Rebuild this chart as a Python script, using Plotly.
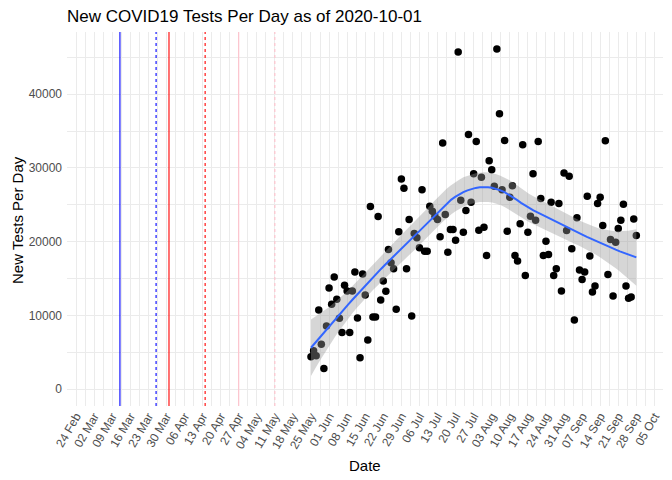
import numpy as np
import pandas as pd
import plotly.graph_objects as go

# daily data, 2020-05-25 .. 2020-09-28
first_day = "2020-05-25"
last_day = "2020-09-28"

new_tests = [
    4370, 5190, 4510, 10730, 6090, 2800, 8570, 13710, 11500, 15200,
    12180, 9610, 7670, 14070, 13300, 7670, 13300, 15870, 9650, 4240,
    15600, 12760, 6670, 24760, 9780, 9780, 23400, 12080, 14650, 13260,
    18940, 17140, 16330, 10820, 21330, 28500, 27240, 16330, 23000, 9920,
    21110, 20520, 19170, 27060, 18710, 18710, 24800, 24120, 23450, 23000,
    20660, 33380, 23680, 18580, 21650, 21650, 20200, 45730, 25610, 21290,
    24220, 34540, 25340, 29220, 33600, 21560, 28730, 21960, 18130, 30980,
    29770, 27510, 46140, 37340, 27060, 33730, 21420, 26020, 27600, 18130,
    17360, 22420, 33150, 15420, 21290, 23450, 29220, 22910, 33600, 25840,
    18130, 20070, 18270, 25340, 15420, 16330, 25170, 13300, 29320, 21510,
    28860, 19030, 9380, 23230, 16140, 14880, 15870, 26160, 18040, 13170,
    13980, 25170, 26020, 22190, 33690, 15560, 20300, 12620, 19930, 21780,
    22910, 25070, 13980, 12310, 12490, 23090, 20840,
]

# policy dates and the same dates + 14 days
event_dates = ["2020-03-12", "2020-03-26", "2020-03-31", "2020-04-14", "2020-04-27", "2020-05-11"]
event_colors = ["blue", "blue", "red", "red", "pink", "pink"]
event_dash = ["solid", "dot", "solid", "dot", "solid", "dot"]

dates = pd.date_range(first_day, last_day, freq="D")
y = np.array(new_tests, dtype=float)
x = ((dates - pd.Timestamp("2020-01-01")) / pd.Timedelta(days=1)).values.astype(float)


# loess smoother (span .75, degree 2) with 95% band, like geom_smooth
def loess_rows(x, at, span=0.75):
    n = len(x)
    q = int(np.floor(n * span))
    rows = []
    for x0 in at:
        dist = np.abs(x - x0)
        h = np.sort(dist)[q - 1]
        u = np.clip(dist / h, 0, 1)
        w = (1 - u ** 3) ** 3
        X = np.column_stack([np.ones(n), x - x0, (x - x0) ** 2])
        XtW = X.T * w
        rows.append(np.linalg.solve(XtW @ X, XtW)[0])
    return np.array(rows)


xs = np.linspace(x.min(), x.max(), 80)
L = loess_rows(x, x)
S = loess_rows(x, xs)
fit = S @ y
resid = y - L @ y
M = (np.eye(len(x)) - L).T @ (np.eye(len(x)) - L)
d1 = np.trace(M)
d2 = np.trace(M @ M)
sigma = np.sqrt(np.sum(resid ** 2) / d1)
se = sigma * np.sqrt(np.sum(S ** 2, axis=1))
df = d1 ** 2 / d2
z = 1.959964
tq = z + (z ** 3 + z) / (4 * df) + (5 * z ** 5 + 16 * z ** 3 + 3 * z) / (96 * df ** 2)
upper = fit + tq * se
lower = fit - tq * se
xs_dates = pd.Timestamp("2020-01-01") + pd.to_timedelta(xs, unit="D")

fig = go.Figure()
fig.add_trace(
    go.Scatter(
        x=dates,
        y=y,
        mode='markers',
        marker=dict(color='black', size=7.5),
        name='tests'
    ))
fig.add_trace(
    go.Scatter(
        x=list(xs_dates) + list(xs_dates[::-1]),
        y=list(upper) + list(lower[::-1]),
        fill='toself',
        fillcolor='rgba(153,153,153,0.4)',
        line=dict(width=0),
        hoverinfo='skip',
        name='band'
    ))
fig.add_trace(
    go.Scatter(
        x=xs_dates,
        y=fit,
        mode='lines',
        line=dict(color='#3366FF', width=2),
        name='smooth'
    ))

for d, c, ds in zip(event_dates, event_colors, event_dash):
    fig.add_shape(type='line', xref='x', yref='paper', x0=d, x1=d, y0=0, y1=1,
                  line=dict(color=c, width=1.1, dash=ds))

grid = '#EBEBEB'
fig.update_xaxes(
    range=['2020-02-20 12:00', '2020-10-08 08:00'],
    tick0='2020-02-24', dtick=7 * 86400000, tickformat='%d %b', tickangle=-60,
    showgrid=True, gridcolor=grid, gridwidth=1,
    minor=dict(tick0='2020-02-24', dtick=3.5 * 86400000, showgrid=True, gridcolor=grid, gridwidth=0.7),
    zeroline=False, showline=False, ticks='',
    tickfont=dict(size=12, color='#4D4D4D')
)
fig.update_yaxes(
    range=[-2300, 48450],
    tickvals=[0, 10000, 20000, 30000, 40000], tickformat='d',
    showgrid=True, gridcolor=grid, gridwidth=1,
    minor=dict(tickvals=[5000, 15000, 25000, 35000, 45000], showgrid=True, gridcolor=grid, gridwidth=0.7),
    zeroline=False, showline=False, ticks='',
    tickfont=dict(size=12, color='#4D4D4D'), ticklabelstandoff=4
)
# page body has an 8px margin, so the figure is 8px smaller than the window
fig.update_layout(
    width=664, height=472,
    margin=dict(l=59, r=9, t=24, b=74),
    plot_bgcolor='white', paper_bgcolor='white',
    showlegend=False,
    font=dict(family='Liberation Sans, Arial, sans-serif', color='black'),
    title=dict(text='New COVID19 Tests Per Day as of 2020-10-01', x=0, xref='paper',
               y=1 - 8 / 472, yref='container', yanchor='middle', xanchor='left',
               font=dict(size=17, color='black')),
    annotations=[
        dict(text='Date', x=0.5, y=(398 - 457) / 374, xref='paper', yref='paper',
             xanchor='center', yanchor='middle',
             showarrow=False, font=dict(size=15, color='black')),
        dict(text='New Tests Per Day', x=(9 - 59) / 596, y=(398 - 212) / 374, xref='paper', yref='paper',
             xanchor='center', yanchor='middle',
             textangle=-90, showarrow=False, font=dict(size=15, color='black')),
    ]
)
fig.write_html("out.html")
